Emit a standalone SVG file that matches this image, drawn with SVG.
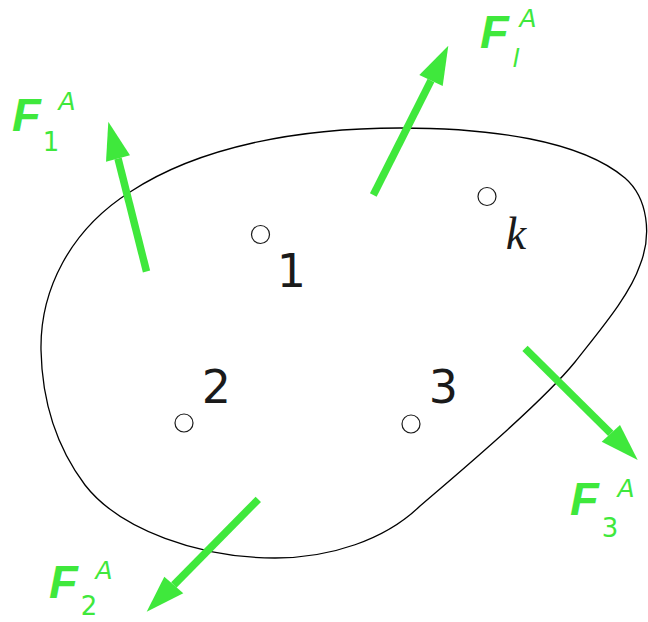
<svg xmlns="http://www.w3.org/2000/svg" width="648" height="622" viewBox="0 0 648 622">
<style>
.body{fill:none;stroke:#000;stroke-width:1.3}
.pt{fill:#fff;stroke:#1a1a1a;stroke-width:1.2}
.num{font-family:"DejaVu Sans",sans-serif;font-size:46px;fill:#1a1a1a;text-anchor:middle}
.kk{font-family:"Liberation Serif",serif;font-style:italic;font-size:46px;fill:#1a1a1a;text-anchor:middle}
.shaft{stroke:#3fe83c;stroke-width:7.5;stroke-linecap:butt}
.head{fill:#3fe83c}
.F{font-family:"Liberation Sans",sans-serif;font-weight:bold;font-style:italic;font-size:47px;fill:#3fe83c}
.sup{font-family:"DejaVu Sans",sans-serif;font-style:italic;font-size:25px;fill:#3fe83c;text-anchor:middle}
.sub{font-family:"DejaVu Sans",sans-serif;font-size:26px;fill:#3fe83c;text-anchor:middle}
</style>
<rect width="648" height="622" fill="#fff"/>
<g id="body">
<path class="body" d="M41,350 C40,290 70,230 130,192 C200,146 300,128 400,128 C490,128 580,140 625,178 C648,198 652,235 640,265 C630,295 600,330 575,362 C540,405 450,480 420,506 C385,540 330,558 275,558 C200,558 120,530 85,485 C55,445 42,400 41,350 Z"/>
</g>
<g id="point-1"><circle class="pt" cx="260.5" cy="234.5" r="9"/><text class="num" x="291.5" y="287">1</text></g>
<g id="point-2"><circle class="pt" cx="184" cy="423" r="9"/><text class="num" x="216.5" y="403">2</text></g>
<g id="point-3"><circle class="pt" cx="411" cy="424" r="9"/><text class="num" x="443.5" y="403">3</text></g>
<g id="point-k"><circle class="pt" cx="487" cy="196.5" r="9"/><text class="kk" x="516" y="249">k</text></g>
<g id="connectors">
<g id="force-1">
<line class="shaft" x1="146.5" y1="271.5" x2="118" y2="158.5"/>
<polygon class="head" points="108.3,121.7 130,155.3 106,161.7"/>
</g>
<g id="force-l">
<line class="shaft" x1="373.3" y1="195" x2="431" y2="80.5"/>
<polygon class="head" points="448.3,45.7 442.7,86 419.3,75"/>
</g>
<g id="force-3">
<line class="shaft" x1="525" y1="348.3" x2="610.8" y2="433.3"/>
<polygon class="head" points="637.7,460 601.7,441.7 620,425"/>
</g>
<g id="force-2">
<line class="shaft" x1="258.3" y1="499.3" x2="173.8" y2="585"/>
<polygon class="head" points="146.7,611.7 164.3,576.7 183.3,593.3"/>
</g>
</g>
<g id="label-F1"><text class="F" x="12" y="131">F</text><text class="sup" x="67" y="110">A</text><text class="sub" x="51" y="151">1</text></g>
<g id="label-Fl"><text class="F" x="480" y="48">F</text><text class="sup" x="528" y="27">A</text><text class="sup" x="516" y="67">l</text></g>
<g id="label-F3"><text class="F" x="570" y="515">F</text><text class="sup" x="626" y="497">A</text><text class="sub" x="610" y="537">3</text></g>
<g id="label-F2"><text class="F" x="49" y="598">F</text><text class="sup" x="104" y="579">A</text><text class="sub" x="89" y="615">2</text></g>
</svg>
